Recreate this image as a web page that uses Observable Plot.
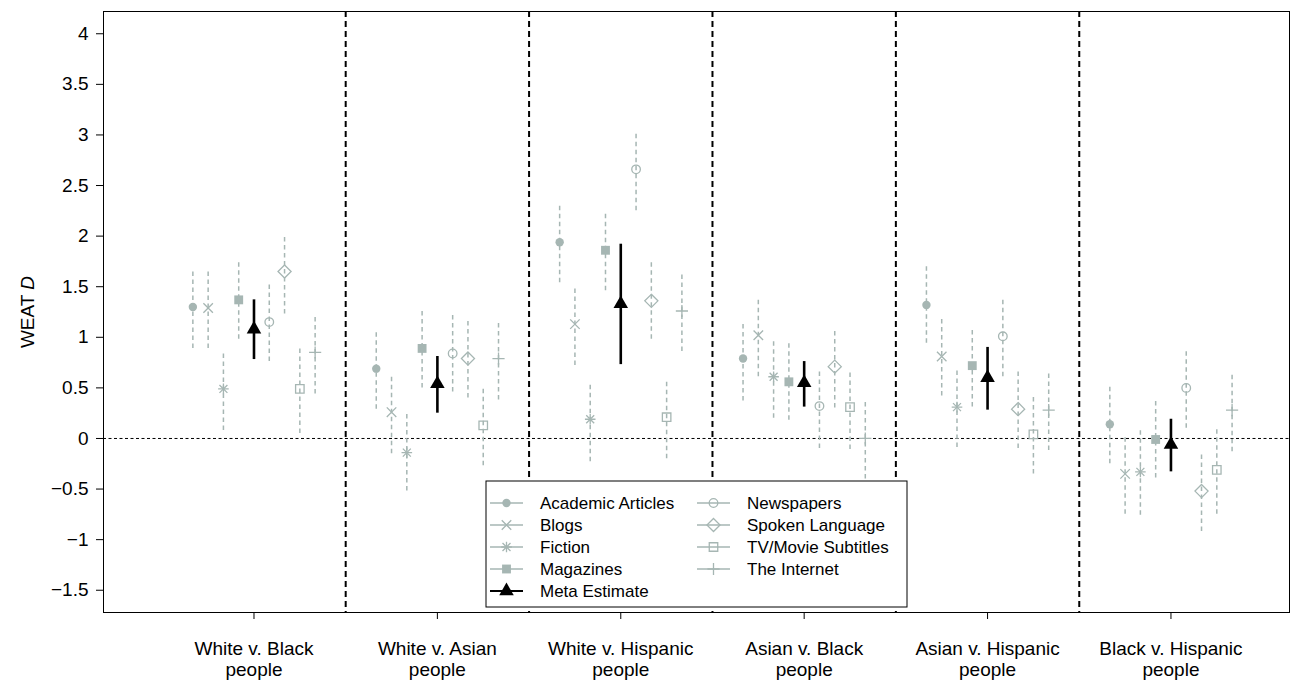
<!DOCTYPE html>
<html><head><meta charset="utf-8">
<script src="https://cdn.jsdelivr.net/npm/d3@7"></script>
<script src="https://cdn.jsdelivr.net/npm/@observablehq/plot@0.6"></script>
<style>
html,body{margin:0;padding:0;background:#fff;}
#chart{width:1290px;height:682px;}
</style></head><body><div id="chart"></div>
<script>
// ---------- data ----------
const comparisons = ["White v. Black\npeople", "White v. Asian\npeople", "White v. Hispanic\npeople",
  "Asian v. Black\npeople", "Asian v. Hispanic\npeople", "Black v. Hispanic\npeople"];
const sources = ["Academic Articles", "Blogs", "Fiction", "Magazines", "Meta Estimate",
  "Newspapers", "Spoken Language", "TV/Movie Subtitles", "The Internet"];
// one row per source, one value per comparison
const estimates = [
  [1.30, 0.69, 1.94, 0.79, 1.32, 0.14],
  [1.29, 0.26, 1.13, 1.02, 0.81, -0.35],
  [0.49, -0.14, 0.19, 0.61, 0.31, -0.33],
  [1.37, 0.89, 1.86, 0.56, 0.72, -0.01],
  [1.08, 0.54, 1.33, 0.55, 0.60, -0.06],
  [1.15, 0.84, 2.66, 0.32, 1.01, 0.50],
  [1.65, 0.79, 1.36, 0.71, 0.29, -0.52],
  [0.49, 0.13, 0.21, 0.31, 0.04, -0.31],
  [0.85, 0.79, 1.26, 0.00, 0.28, 0.28]
];
const lowers = [
  [0.89, 0.29, 1.54, 0.37, 0.94, -0.25],
  [0.89, -0.15, 0.72, 0.61, 0.42, -0.75],
  [0.08, -0.52, -0.23, 0.20, -0.09, -0.76],
  [0.98, 0.50, 1.46, 0.18, 0.31, -0.39],
  [0.78, 0.25, 0.73, 0.31, 0.28, -0.33],
  [0.76, 0.46, 2.25, -0.10, 0.61, 0.10],
  [1.23, 0.40, 0.98, 0.30, -0.10, -0.92],
  [0.05, -0.27, -0.20, -0.11, -0.35, -0.75],
  [0.44, 0.38, 0.86, -0.40, -0.12, -0.13]
];
const uppers = [
  [1.68, 1.07, 2.32, 1.15, 1.71, 0.52],
  [1.67, 0.64, 1.50, 1.40, 1.20, 0.03],
  [0.86, 0.24, 0.55, 0.98, 0.69, 0.11],
  [1.75, 1.27, 2.25, 0.95, 1.09, 0.37],
  [1.37, 0.81, 1.92, 0.76, 0.90, 0.19],
  [1.53, 1.23, 3.03, 0.68, 1.40, 0.89],
  [2.01, 1.18, 1.75, 1.08, 0.66, -0.14],
  [0.90, 0.50, 0.58, 0.67, 0.43, 0.12],
  [1.22, 1.17, 1.64, 0.38, 0.66, 0.66]
];
const yTicks = [-1.5, -1, -0.5, 0, 0.5, 1, 1.5, 2, 2.5, 3, 3.5, 4];
const yTickLabels = ["\u22121.5", "\u22121", "\u22120.5", "0", "0.5", "1", "1.5", "2", "2.5", "3", "3.5", "4"];

// ---------- styling ----------
const grey = "#a6b6b3";
const META = "Meta Estimate";
const symbolStyles = {
  "Academic Articles": [{symbol: "circle", fill: grey, stroke: "none", r: 4.2}],
  "Blogs": [{symbol: "times", fill: "none", stroke: grey, r: 4.4}],
  "Fiction": [{symbol: "plus", fill: "none", stroke: grey, r: 3.5}, {symbol: "times", fill: "none", stroke: grey, r: 3.7}],
  "Magazines": [{symbol: "square", fill: grey, stroke: "none", r: 5.0}],
  "Meta Estimate": [{symbol: "triangle", fill: "black", stroke: "none", r: 5.4}],
  "Newspapers": [{symbol: "circle", fill: "none", stroke: grey, r: 4.3}],
  "Spoken Language": [{symbol: "diamond2", fill: "none", stroke: grey, r: 5.9}],
  "TV/Movie Subtitles": [{symbol: "square2", fill: "none", stroke: grey, r: 5.4}],
  "The Internet": [{symbol: "plus", fill: "none", stroke: grey, r: 4}]
};

const rows = [];
sources.forEach((s, si) => comparisons.forEach((c, ci) => rows.push({
  source: s, comp: ci + 1, x: ci + 1 + (si - (sources.length - 1) / 2) / 12,
  est: estimates[si][ci], lo: lowers[si][ci], hi: uppers[si][ci]
})));
const separators = comparisons.slice(1).map((_, i) => i + 1.5);

const dotMarks = [];
for (const s of sources) {
  for (const st of symbolStyles[s]) {
    dotMarks.push(Plot.dot(rows.filter(d => d.source === s), {
      x: "x", y: "est", symbol: st.symbol, r: st.r, fill: st.fill, stroke: st.stroke, strokeWidth: 1.3
    }));
  }
}

const chart = Plot.plot({
  width: 1290, height: 682,
  marginLeft: 103, marginRight: 1, marginTop: 11, marginBottom: 70,
  style: {fontFamily: "'Liberation Sans', Arial, Helvetica, sans-serif", fontSize: "19px", background: "#fff", color: "black"},
  x: {domain: [0.1794, 6.6464]},
  y: {domain: [-1.72, 4.22]},
  marks: [
    Plot.ruleY([0], {stroke: "black", strokeWidth: 1, strokeDasharray: "3,2.5"}),
    Plot.ruleX(separators, {stroke: "black", strokeWidth: 2, strokeDasharray: "6,4"}),
    Plot.ruleX(rows.filter(d => d.source !== META), {x: "x", y1: "lo", y2: "hi", stroke: grey, strokeWidth: 1.5, strokeDasharray: "4.5,3.5"}),
    Plot.ruleX(rows.filter(d => d.source === META), {x: "x", y1: "lo", y2: "hi", stroke: "black", strokeWidth: 2.6}),
    ...dotMarks,
    Plot.frame({stroke: "black", strokeWidth: 1}),
    Plot.axisX({ticks: comparisons.map((_, i) => i + 1), tickFormat: d => comparisons[d - 1], tickSize: 7, tickPadding: 20, lineHeight: 1.13, label: null}),
    Plot.axisY({ticks: yTicks, tickFormat: d => yTickLabels[yTicks.indexOf(d)], tickSize: 7, tickPadding: 8, label: null})
  ]
});
document.getElementById("chart").appendChild(chart);

// ---------- y label with italic D ----------
const svg = d3.select(chart);
const yl = svg.append("text")
  .attr("transform", "translate(34,312) rotate(-90)")
  .attr("text-anchor", "middle").attr("font-size", 19).attr("fill", "black");
yl.append("tspan").text("WEAT ");
yl.append("tspan").attr("font-style", "italic").text("D");

// ---------- legend ----------
const box = {x: 486, y: 481, w: 421, h: 126};
const lg = svg.append("g").attr("text-anchor", "start");
lg.append("rect").attr("x", box.x).attr("y", box.y).attr("width", box.w).attr("height", box.h)
  .attr("fill", "white").attr("stroke", "black").attr("stroke-width", 1);
const col1 = sources.slice(0, 5), col2 = sources.slice(5);
const rowStep = 22, firstRow = box.y + 22;
const cols = [{items: col1, lx: box.x + 4}, {items: col2, lx: box.x + 211}];
const symbolMap = {circle: d3.symbolCircle, times: d3.symbolTimes, plus: d3.symbolPlus, square: d3.symbolSquare,
  triangle: d3.symbolTriangle, diamond2: d3.symbolDiamond2, square2: d3.symbolSquare2};
for (const col of cols) {
  col.items.forEach((s, i) => {
    const cy = firstRow + i * rowStep;
    const isMeta = s === META;
    lg.append("line").attr("x1", col.lx).attr("x2", col.lx + 33).attr("y1", cy).attr("y2", cy)
      .attr("stroke", isMeta ? "black" : grey).attr("stroke-width", isMeta ? 2 : 1.5);
    for (const st of symbolStyles[s]) {
      lg.append("path")
        .attr("d", d3.symbol(symbolMap[st.symbol], Math.PI * st.r * st.r)())
        .attr("transform", `translate(${col.lx + 16.5},${cy})`)
        .attr("fill", st.fill).attr("stroke", st.stroke).attr("stroke-width", 1.3);
    }
    lg.append("text").attr("x", col.lx + 50).attr("y", cy).attr("dy", "0.35em")
      .attr("text-anchor", "start").attr("font-size", 17).attr("fill", "black").text(s);
  });
}
</script>
</body></html>
